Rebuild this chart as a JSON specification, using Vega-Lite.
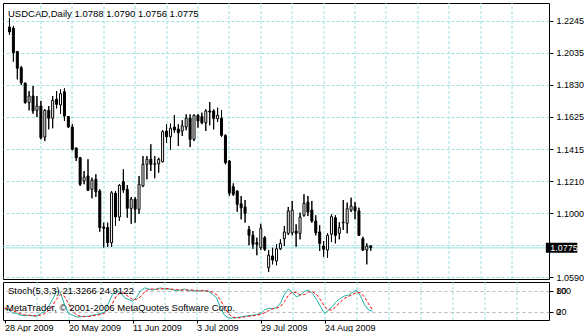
{
"$schema": "https://vega.github.io/schema/vega-lite/v6.json",
"padding": {"left": 2, "top": 2, "right": 0, "bottom": 0},
"background": "white",
"spacing": 3,
"bounds": "flush",
"config": {"font": "Liberation Sans", "view": {"stroke": "black", "strokeWidth": 1}, "axis": {"labelFont": "Liberation Sans", "labelFontSize": 9, "labelColor": "black", "tickColor": "black", "labelOverlap": false}},
"datasets": {"bars": [
{"d":0,"o":1.2206,"h":1.2264,"l":1.2154,"c":1.2174,"k":28,"s":30},
{"d":1,"o":1.2198,"h":1.2213,"l":1.1981,"c":1.2040,"k":25,"s":28},
{"d":2,"o":1.2047,"h":1.2051,"l":1.1867,"c":1.1939,"k":17,"s":23},
{"d":3,"o":1.1942,"h":1.1953,"l":1.1830,"c":1.1845,"k":15,"s":19},
{"d":4,"o":1.1843,"h":1.1845,"l":1.1710,"c":1.1716,"k":10,"s":14},
{"d":5,"o":1.1716,"h":1.1791,"l":1.1666,"c":1.1759,"k":9,"s":11},
{"d":6,"o":1.1759,"h":1.1824,"l":1.1644,"c":1.1662,"k":10,"s":10},
{"d":7,"o":1.1666,"h":1.1759,"l":1.1623,"c":1.1694,"k":8,"s":9},
{"d":8,"o":1.1694,"h":1.1727,"l":1.1478,"c":1.1489,"k":7,"s":8},
{"d":9,"o":1.1493,"h":1.1673,"l":1.1467,"c":1.1666,"k":15,"s":10},
{"d":10,"o":1.1666,"h":1.1694,"l":1.1543,"c":1.1615,"k":20,"s":14},
{"d":11,"o":1.1615,"h":1.1759,"l":1.1550,"c":1.1731,"k":35,"s":23},
{"d":12,"o":1.1738,"h":1.1791,"l":1.1679,"c":1.1705,"k":55,"s":37},
{"d":13,"o":1.1701,"h":1.1802,"l":1.1644,"c":1.1774,"k":78,"s":56},
{"d":14,"o":1.1787,"h":1.1809,"l":1.1597,"c":1.1629,"k":75,"s":69},
{"d":15,"o":1.1626,"h":1.1629,"l":1.1552,"c":1.1558,"k":40,"s":64},
{"d":16,"o":1.1558,"h":1.1576,"l":1.1407,"c":1.1414,"k":15,"s":43},
{"d":17,"o":1.1422,"h":1.1424,"l":1.1338,"c":1.1359,"k":10,"s":22},
{"d":18,"o":1.1360,"h":1.1364,"l":1.1176,"c":1.1187,"k":5,"s":10},
{"d":19,"o":1.1208,"h":1.1273,"l":1.1187,"c":1.1234,"k":5,"s":7},
{"d":20,"o":1.1241,"h":1.1349,"l":1.1143,"c":1.1148,"k":7,"s":6},
{"d":21,"o":1.1154,"h":1.1230,"l":1.1096,"c":1.1213,"k":7,"s":6},
{"d":22,"o":1.1219,"h":1.1252,"l":1.1105,"c":1.1139,"k":10,"s":8},
{"d":23,"o":1.1143,"h":1.1154,"l":1.0880,"c":1.0906,"k":12,"s":10},
{"d":24,"o":1.0910,"h":1.0938,"l":1.0776,"c":1.0902,"k":15,"s":12},
{"d":25,"o":1.0907,"h":1.0938,"l":1.0781,"c":1.0808,"k":18,"s":15},
{"d":26,"o":1.0808,"h":1.1143,"l":1.0781,"c":1.1132,"k":45,"s":26},
{"d":27,"o":1.1129,"h":1.1143,"l":1.0917,"c":1.0975,"k":70,"s":44},
{"d":28,"o":1.0975,"h":1.1187,"l":1.0949,"c":1.1180,"k":80,"s":65},
{"d":29,"o":1.1204,"h":1.1284,"l":1.1132,"c":1.1150,"k":75,"s":75},
{"d":30,"o":1.1154,"h":1.1182,"l":1.0970,"c":1.1031,"k":60,"s":72},
{"d":31,"o":1.1031,"h":1.1104,"l":1.0931,"c":1.1090,"k":55,"s":63},
{"d":32,"o":1.1090,"h":1.1104,"l":1.0938,"c":1.1025,"k":50,"s":55},
{"d":33,"o":1.1025,"h":1.1241,"l":1.0996,"c":1.1187,"k":60,"s":55},
{"d":34,"o":1.1176,"h":1.1370,"l":1.1169,"c":1.1316,"k":80,"s":63},
{"d":35,"o":1.1316,"h":1.1370,"l":1.1219,"c":1.1349,"k":88,"s":76},
{"d":36,"o":1.1349,"h":1.1446,"l":1.1273,"c":1.1316,"k":85,"s":84},
{"d":37,"o":1.1316,"h":1.1370,"l":1.1226,"c":1.1320,"k":82,"s":85},
{"d":38,"o":1.1320,"h":1.1359,"l":1.1262,"c":1.1349,"k":85,"s":84},
{"d":39,"o":1.1333,"h":1.1537,"l":1.1329,"c":1.1528,"k":88,"s":85},
{"d":40,"o":1.1532,"h":1.1576,"l":1.1456,"c":1.1495,"k":85,"s":86},
{"d":41,"o":1.1495,"h":1.1580,"l":1.1411,"c":1.1550,"k":85,"s":86},
{"d":42,"o":1.1558,"h":1.1636,"l":1.1521,"c":1.1539,"k":83,"s":84},
{"d":43,"o":1.1545,"h":1.1576,"l":1.1435,"c":1.1521,"k":80,"s":83},
{"d":44,"o":1.1532,"h":1.1602,"l":1.1500,"c":1.1565,"k":82,"s":82},
{"d":45,"o":1.1558,"h":1.1640,"l":1.1537,"c":1.1615,"k":85,"s":82},
{"d":46,"o":1.1615,"h":1.1640,"l":1.1428,"c":1.1478,"k":80,"s":82},
{"d":47,"o":1.1478,"h":1.1640,"l":1.1467,"c":1.1634,"k":80,"s":82},
{"d":48,"o":1.1634,"h":1.1640,"l":1.1554,"c":1.1597,"k":79,"s":80},
{"d":49,"o":1.1625,"h":1.1651,"l":1.1576,"c":1.1586,"k":80,"s":80},
{"d":50,"o":1.1586,"h":1.1673,"l":1.1532,"c":1.1662,"k":80,"s":80},
{"d":51,"o":1.1662,"h":1.1720,"l":1.1569,"c":1.1655,"k":78,"s":79},
{"d":52,"o":1.1662,"h":1.1673,"l":1.1543,"c":1.1612,"k":70,"s":76},
{"d":53,"o":1.1612,"h":1.1683,"l":1.1591,"c":1.1634,"k":60,"s":69},
{"d":54,"o":1.1615,"h":1.1668,"l":1.1495,"c":1.1504,"k":30,"s":53},
{"d":55,"o":1.1504,"h":1.1511,"l":1.1316,"c":1.1327,"k":10,"s":33},
{"d":56,"o":1.1338,"h":1.1344,"l":1.1111,"c":1.1129,"k":2,"s":14},
{"d":57,"o":1.1171,"h":1.1193,"l":1.1111,"c":1.1122,"k":2,"s":5},
{"d":58,"o":1.1143,"h":1.1148,"l":1.1009,"c":1.1057,"k":3,"s":2},
{"d":59,"o":1.1061,"h":1.1111,"l":1.0960,"c":1.1035,"k":5,"s":3},
{"d":60,"o":1.1040,"h":1.1085,"l":1.0938,"c":1.0999,"k":7,"s":5},
{"d":61,"o":1.0895,"h":1.0917,"l":1.0792,"c":1.0856,"k":8,"s":7},
{"d":62,"o":1.0856,"h":1.0884,"l":1.0769,"c":1.0798,"k":10,"s":8},
{"d":63,"o":1.0808,"h":1.0841,"l":1.0727,"c":1.0798,"k":12,"s":10},
{"d":64,"o":1.0776,"h":1.0931,"l":1.0761,"c":1.0902,"k":15,"s":12},
{"d":65,"o":1.0841,"h":1.0852,"l":1.0755,"c":1.0766,"k":25,"s":17},
{"d":66,"o":1.0646,"h":1.0761,"l":1.0619,"c":1.0727,"k":30,"s":23},
{"d":67,"o":1.0722,"h":1.0776,"l":1.0668,"c":1.0696,"k":28,"s":28},
{"d":68,"o":1.0690,"h":1.0798,"l":1.0662,"c":1.0769,"k":32,"s":30},
{"d":69,"o":1.0769,"h":1.0830,"l":1.0761,"c":1.0804,"k":45,"s":35},
{"d":70,"o":1.0834,"h":1.0917,"l":1.0787,"c":1.0878,"k":70,"s":49},
{"d":71,"o":1.0869,"h":1.1040,"l":1.0858,"c":1.1014,"k":85,"s":67},
{"d":72,"o":1.0873,"h":1.1079,"l":1.0856,"c":1.1020,"k":75,"s":77},
{"d":73,"o":1.0884,"h":1.0928,"l":1.0782,"c":1.0869,"k":62,"s":74},
{"d":74,"o":1.0869,"h":1.1003,"l":1.0830,"c":1.0975,"k":68,"s":68},
{"d":75,"o":1.0986,"h":1.1122,"l":1.0977,"c":1.1064,"k":78,"s":69},
{"d":76,"o":1.1072,"h":1.1111,"l":1.0981,"c":1.1007,"k":82,"s":76},
{"d":77,"o":1.1020,"h":1.1079,"l":1.0938,"c":1.0949,"k":72,"s":77},
{"d":78,"o":1.0949,"h":1.0986,"l":1.0856,"c":1.0873,"k":55,"s":70},
{"d":79,"o":1.0878,"h":1.0921,"l":1.0755,"c":1.0804,"k":35,"s":54},
{"d":80,"o":1.0787,"h":1.0819,"l":1.0718,"c":1.0766,"k":15,"s":35},
{"d":81,"o":1.0761,"h":1.0869,"l":1.0711,"c":1.0856,"k":25,"s":25},
{"d":82,"o":1.0863,"h":1.0992,"l":1.0813,"c":1.0977,"k":35,"s":25},
{"d":83,"o":1.0970,"h":1.0986,"l":1.0804,"c":1.0856,"k":50,"s":37},
{"d":84,"o":1.0869,"h":1.0942,"l":1.0830,"c":1.0906,"k":58,"s":48},
{"d":85,"o":1.0938,"h":1.1085,"l":1.0891,"c":1.0942,"k":65,"s":58},
{"d":86,"o":1.0934,"h":1.1068,"l":1.0869,"c":1.1029,"k":68,"s":64},
{"d":87,"o":1.1020,"h":1.1100,"l":1.1007,"c":1.1046,"k":75,"s":69},
{"d":88,"o":1.1042,"h":1.1072,"l":1.0960,"c":1.1014,"k":82,"s":75},
{"d":89,"o":1.1014,"h":1.1035,"l":1.0852,"c":1.0856,"k":65,"s":74},
{"d":90,"o":1.0834,"h":1.0847,"l":1.0755,"c":1.0761,"k":40,"s":62},
{"d":91,"o":1.0761,"h":1.0804,"l":1.0668,"c":1.0787,"k":25,"s":43},
{"d":92,"o":1.0788,"h":1.0790,"l":1.0756,"c":1.0775,"k":21.3266,"s":24.9122}
]},
"vconcat": [
{
"width": 546, "height": 276,
"title": {"text": "USDCAD,Daily  1.0788 1.0790 1.0756 1.0775", "anchor": "start", "orient": "top", "frame": "group", "offset": -15.5, "baseline": "top", "dx": 5, "fontSize": 9.5, "fontWeight": "normal", "color": "black", "font": "Liberation Sans"},
"layer": [
{"data": {"name": "bars"}, "mark": {"type": "rule", "color": "black", "strokeWidth": 1},
 "encoding": {
  "x": {"field": "d", "type": "quantitative", "scale": {"domain": [-0.375, 136.125], "nice": false, "zero": false},
   "axis": {"orient": "top", "values": [8,16,24,32,40,48,56,64,72,80,88,96,104,112,120,128], "tickCount": 40, "grid": true, "gridColor": "#9fe0e0", "gridDash": [3, 2], "gridOpacity": 1, "labels": false, "ticks": false, "domain": false, "title": null, "translate": 0}},
  "y": {"field": "l", "type": "quantitative", "scale": {"domain": [1.05732, 1.23616], "nice": false, "zero": false},
   "axis": {"orient": "right", "values": [1.2245, 1.203764, 1.183028, 1.162292, 1.141556, 1.12082, 1.100084, 1.079348, 1.058612], "tickCount": 40, "labelExpr": "['1.2245','1.2035','1.1830','1.1625','1.1415','1.1210','1.1000','','1.0590'][round((1.2245-datum.value)/0.020736)]", "grid": true, "gridColor": "#9fe0e0", "gridDash": [3, 2], "gridOpacity": 1, "tickSize": 4, "labelPadding": 3, "labelOverlap": false, "domain": false, "title": null}},
  "y2": {"field": "h"}}},
{"data": {"values": [{"p": 1.0775}]}, "mark": {"type": "rule", "color": "#9fe0e0", "strokeWidth": 1},
 "encoding": {
  "y": {"field": "p", "type": "quantitative", "scale": {"domain": [1.05732, 1.23616], "nice": false, "zero": false}}}},
{"data": {"name": "bars"}, "mark": {"type": "rule", "color": "black", "strokeWidth": 1},
 "encoding": {
  "x": {"field": "d", "type": "quantitative", "scale": {"domain": [-0.375, 136.125], "nice": false, "zero": false}},
  "y": {"field": "l", "type": "quantitative", "scale": {"domain": [1.05732, 1.23616], "nice": false, "zero": false}},
  "y2": {"field": "h"}}},
{"data": {"name": "bars"}, "mark": {"type": "bar", "width": 2, "stroke": "black", "strokeWidth": 1},
 "encoding": {
  "x": {"field": "d", "type": "quantitative", "scale": {"domain": [-0.375, 136.125], "nice": false, "zero": false}},
  "y": {"field": "o", "type": "quantitative", "scale": {"domain": [1.05732, 1.23616], "nice": false, "zero": false}},
  "y2": {"field": "c"},
  "fill": {"condition": {"test": "datum.c < datum.o", "value": "black"}, "value": "white"}}},
{"data": {"values": [{}]}, "mark": {"type": "rect", "color": "black"},
 "encoding": {
  "x": {"datum": 136.6, "type": "quantitative", "scale": {"domain": [-0.375, 136.125], "nice": false, "zero": false}},
  "x2": {"datum": 144.6},
  "y": {"datum": 1.08074, "type": "quantitative", "scale": {"domain": [1.05732, 1.23616], "nice": false, "zero": false}},
  "y2": {"datum": 1.07426}}},
{"data": {"values": [{}]}, "mark": {"type": "text", "color": "white", "align": "left", "baseline": "middle", "fontSize": 9, "font": "Liberation Sans"},
 "encoding": {
  "x": {"datum": 137.7, "type": "quantitative", "scale": {"domain": [-0.375, 136.125], "nice": false, "zero": false}},
  "y": {"datum": 1.0775, "type": "quantitative", "scale": {"domain": [1.05732, 1.23616], "nice": false, "zero": false}},
  "text": {"value": "1.0775"}}}
]
},
{
"width": 546, "height": 38,
"data": {"name": "bars"},
"layer": [
{"mark": {"type": "line", "color": "#20b2aa", "strokeWidth": 1},
 "encoding": {
  "x": {"field": "d", "type": "quantitative", "scale": {"domain": [-0.375, 136.125], "nice": false, "zero": false},
   "axis": {"orient": "top", "values": [8,16,24,32,40,48,56,64,72,80,88,96,104,112,120,128], "tickCount": 40, "grid": true, "gridColor": "#9fe0e0", "gridDash": [3, 2], "gridOpacity": 1, "labels": false, "ticks": false, "domain": false, "title": null, "translate": 0}},
  "y": {"field": "k", "type": "quantitative", "scale": {"domain": [-3.7, 104.9], "nice": false, "zero": false},
   "axis": {"orient": "right", "values": [20, 80], "tickCount": 10, "grid": true, "gridColor": "#b8b8b8", "gridDash": [3, 3], "gridOpacity": 1, "tickSize": 4, "labelPadding": 3, "labelOverlap": false, "domain": false, "title": null}}}},
{"mark": {"type": "line", "color": "red", "strokeWidth": 1, "strokeDash": [3, 2]},
 "encoding": {
  "x": {"field": "d", "type": "quantitative", "scale": {"domain": [-0.375, 136.125], "nice": false, "zero": false},
   "axis": {"orient": "bottom", "values": [0, 16, 32, 48, 64, 80], "tickCount": 40, "labelExpr": "['28 Apr 2009','20 May 2009','11 Jun 2009','3 Jul 2009','29 Jul 2009','24 Aug 2009'][round(datum.value/16)]", "grid": false, "labelAlign": "left", "labelFlush": false, "labelOverlap": false, "labelPadding": 0, "tickSize": 3, "domain": false, "title": null, "labelFontSize": 9}},
  "y": {"field": "s", "type": "quantitative", "scale": {"domain": [-3.7, 104.9], "nice": false, "zero": false}}}},
{"data": {"values": [{"lv": 80, "t": "100"}, {"lv": 20, "t": "0"}]}, "mark": {"type": "text", "align": "left", "baseline": "middle", "fontSize": 9, "color": "black", "font": "Liberation Sans"},
 "encoding": {
  "x": {"datum": 137.85, "type": "quantitative", "scale": {"domain": [-0.375, 136.125], "nice": false, "zero": false}, "axis": null},
  "y": {"field": "lv", "type": "quantitative", "scale": {"domain": [-3.7, 104.9], "nice": false, "zero": false}},
  "text": {"field": "t"}}},
{"data": {"values": [{"tx": 0.875, "ty": 79.2, "t": "Stoch(5,3,3) 21.3266 24.9122"}, {"tx": 0.375, "ty": 31.5, "t": "MetaTrader, © 2001-2006 MetaQuotes Software Corp."}]}, "mark": {"type": "text", "align": "left", "baseline": "middle", "fontSize": 9.5, "color": "black", "font": "Liberation Sans"},
 "encoding": {
  "x": {"field": "tx", "type": "quantitative", "scale": {"domain": [-0.375, 136.125], "nice": false, "zero": false}, "axis": null},
  "y": {"field": "ty", "type": "quantitative", "scale": {"domain": [-3.7, 104.9], "nice": false, "zero": false}},
  "text": {"field": "t"}}}
],
"resolve": {"axis": {"x": "independent"}}
}
]
}
